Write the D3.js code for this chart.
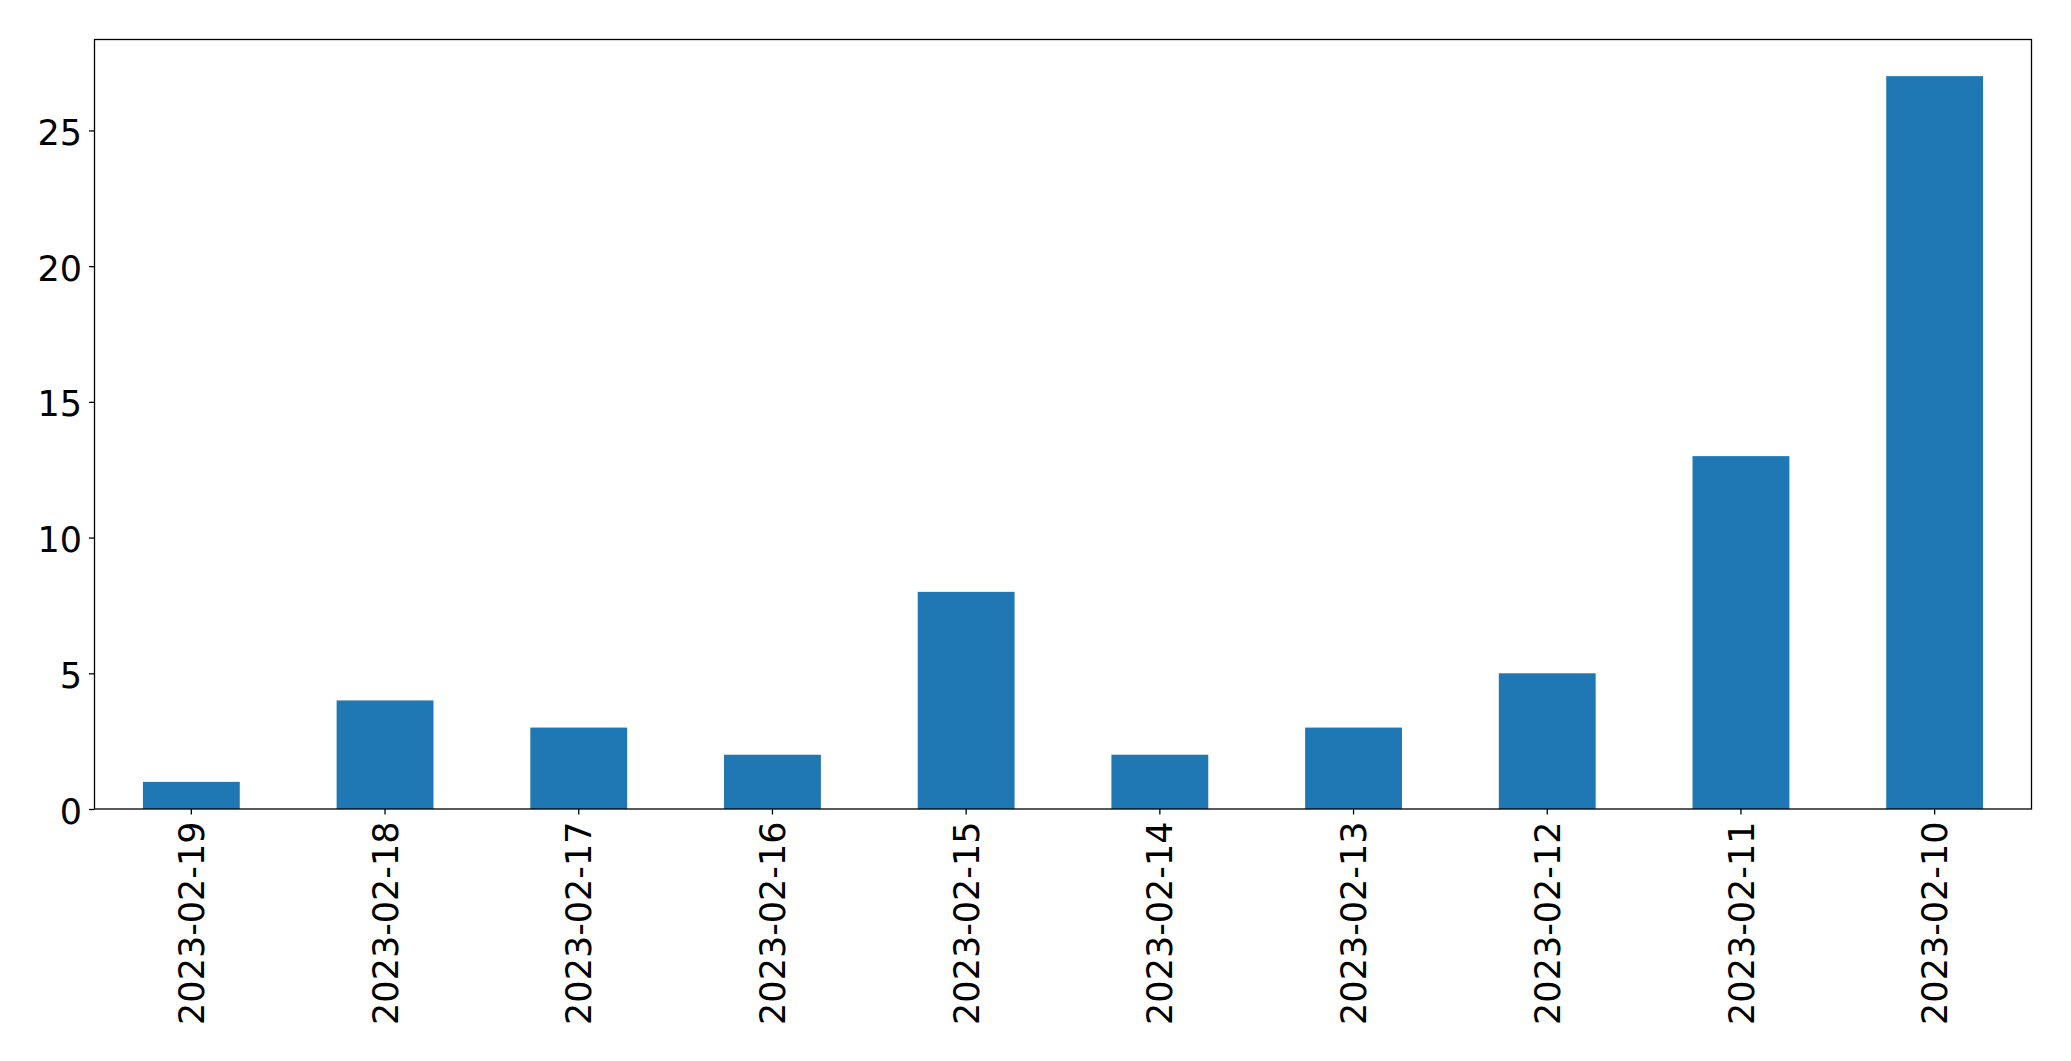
<!DOCTYPE html>
<html>
<head>
<meta charset="utf-8">
<script src="https://cdn.jsdelivr.net/npm/d3@7"></script>
<style>
  html, body { margin: 0; padding: 0; background: #fff; }
  svg { display: block; }
</style>
</head>
<body>
<svg id="chart" width="2071" height="1061"></svg>
<script>
const categories = ["2023-02-19","2023-02-18","2023-02-17","2023-02-16","2023-02-15","2023-02-14","2023-02-13","2023-02-12","2023-02-11","2023-02-10"];
const values = [1, 4, 3, 2, 8, 2, 3, 5, 13, 27];
const yTicks = [0, 5, 10, 15, 20, 25];

const W = 2071, H = 1061;
const margin = {left: 94.5, right: W - 2031.5, top: 39.5, bottom: H - 809};
const svg = d3.select("#chart");
const innerW = W - margin.left - margin.right;
const innerH = H - margin.top - margin.bottom;
const g = svg.append("g").attr("transform", `translate(${margin.left},${margin.top})`);

const x = d3.scaleBand().domain(categories).range([0, innerW]).paddingInner(0.5).paddingOuter(0.25);
const y = d3.scaleLinear().domain([0, d3.max(values) * 1.05]).range([innerH, 0]);

g.selectAll("rect.bar").data(values).join("rect")
  .attr("class", "bar")
  .attr("x", (d, i) => x(categories[i]))
  .attr("width", x.bandwidth())
  .attr("y", d => y(d))
  .attr("height", d => y(0) - y(d))
  .attr("fill", "#1f77b4");

const fontFamily = "'DejaVu Sans', sans-serif";
const fs = 35;

const yAxis = g.append("g").call(d3.axisLeft(y).tickValues(yTicks).tickSize(5.5).tickPadding(7).tickFormat(d3.format("d")));
yAxis.select(".domain").remove();
yAxis.selectAll("line").attr("stroke", "#000").attr("stroke-width", 1.3);
yAxis.selectAll("text").attr("font-family", fontFamily).attr("font-size", fs).attr("fill", "#000").attr("dy", "0.4em");

const xAxis = g.append("g").attr("transform", `translate(0,${innerH})`)
  .call(d3.axisBottom(x).tickSize(5.5).tickPadding(0));
xAxis.select(".domain").remove();
xAxis.selectAll("line").attr("stroke", "#000").attr("stroke-width", 1.3);
xAxis.selectAll("text")
  .attr("font-family", fontFamily).attr("font-size", fs).attr("fill", "#000")
  .attr("text-anchor", "end")
  .attr("dy", "0.36em")
  .attr("transform", "translate(0,12.5) rotate(-90)")
  .attr("x", 0).attr("y", 0);

g.append("rect").attr("x", 0).attr("y", 0).attr("width", innerW).attr("height", innerH)
  .attr("fill", "none").attr("stroke", "#000").attr("stroke-width", 1.3);
</script>
</body>
</html>
